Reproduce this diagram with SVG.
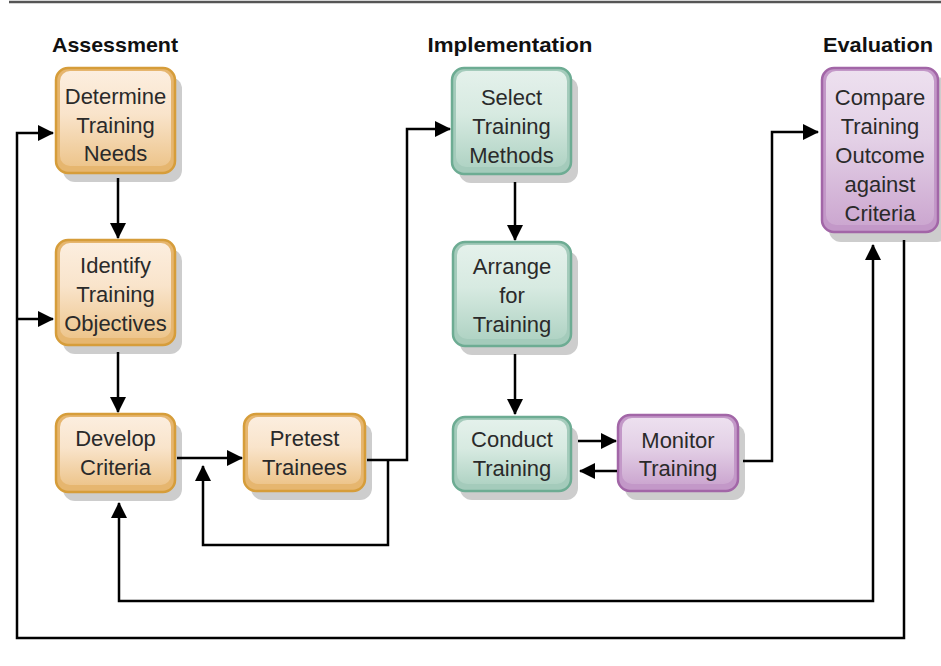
<svg xmlns="http://www.w3.org/2000/svg" width="941" height="666" viewBox="0 0 941 666">
<defs>
<linearGradient id="gO" x1="0" y1="0" x2="0" y2="1"><stop offset="0" stop-color="#FCEEDF"/><stop offset="0.45" stop-color="#F9E4CB"/><stop offset="1" stop-color="#EDC58C"/></linearGradient>
<linearGradient id="gG" x1="0" y1="0" x2="0" y2="1"><stop offset="0" stop-color="#E4F1EB"/><stop offset="0.45" stop-color="#D7EAE1"/><stop offset="1" stop-color="#B0D3C4"/></linearGradient>
<linearGradient id="gP" x1="0" y1="0" x2="0" y2="1"><stop offset="0" stop-color="#EDE0EF"/><stop offset="0.45" stop-color="#E3D0E6"/><stop offset="1" stop-color="#CCA7D0"/></linearGradient>
<marker id="ah" viewBox="0 0 16 16" refX="15" refY="8" markerWidth="16" markerHeight="16" markerUnits="userSpaceOnUse" orient="auto-start-reverse"><path d="M0,0 L16,8 L0,16 Z" fill="#000"/></marker>
</defs>
<style>
.sh{fill:#CDCDCD}
.o .ou{fill:#E6B66F;stroke:#D69D3A;stroke-width:2.5}
.o .in{fill:url(#gO)}
.g .ou{fill:#A4CBBB;stroke:#6DAC93;stroke-width:2.5}
.g .in{fill:url(#gG)}
.p .ou{fill:#C398C8;stroke:#A266A7;stroke-width:2.5}
.p .in{fill:url(#gP)}
.t{font-family:"Liberation Sans",Arial,sans-serif;font-size:22px;fill:#2a2a2a;text-anchor:middle}
.h{font-family:"Liberation Sans",Arial,sans-serif;font-size:21px;font-weight:bold;fill:#111;text-anchor:middle}
.c path{fill:none;stroke:#000;stroke-width:2.5}
</style>
<line x1="9" y1="2" x2="941" y2="2" stroke="#555" stroke-width="2.5"/>
<g id="headings">
<text class="h" x="115" y="52" textLength="126" lengthAdjust="spacingAndGlyphs">Assessment</text>
<text class="h" x="510" y="52" textLength="165" lengthAdjust="spacingAndGlyphs">Implementation</text>
<text class="h" x="878" y="52" textLength="110" lengthAdjust="spacingAndGlyphs">Evaluation</text>
</g>
<g id="determine" class="o">
<rect class="sh" x="63" y="77" width="119" height="105" rx="12"/>
<rect class="ou" x="56" y="68" width="119" height="105" rx="12"/>
<rect class="in" x="60" y="71" width="111" height="95" rx="10"/>
<text class="t" x="115.5" y="104">Determine</text><text class="t" x="115.5" y="133">Training</text><text class="t" x="115.5" y="161">Needs</text>
</g>
<g id="identify" class="o">
<rect class="sh" x="63" y="249" width="119" height="105" rx="12"/>
<rect class="ou" x="56" y="240" width="119" height="105" rx="12"/>
<rect class="in" x="60" y="243" width="111" height="95" rx="10"/>
<text class="t" x="115.5" y="273">Identify</text><text class="t" x="115.5" y="302">Training</text><text class="t" x="115.5" y="331">Objectives</text>
</g>
<g id="develop" class="o">
<rect class="sh" x="63" y="423" width="119" height="78" rx="12"/>
<rect class="ou" x="56" y="414" width="119" height="78" rx="12"/>
<rect class="in" x="60" y="417" width="111" height="68" rx="10"/>
<text class="t" x="115.5" y="446">Develop</text><text class="t" x="115.5" y="475">Criteria</text>
</g>
<g id="pretest" class="o">
<rect class="sh" x="251" y="423" width="121" height="77" rx="12"/>
<rect class="ou" x="244" y="414" width="121" height="77" rx="12"/>
<rect class="in" x="248" y="417" width="113" height="67" rx="10"/>
<text class="t" x="304.5" y="446">Pretest</text><text class="t" x="304.5" y="475">Trainees</text>
</g>
<g id="select" class="g">
<rect class="sh" x="459" y="77" width="119" height="106" rx="12"/>
<rect class="ou" x="452" y="68" width="119" height="106" rx="12"/>
<rect class="in" x="456" y="71" width="111" height="96" rx="10"/>
<text class="t" x="511.5" y="105">Select</text><text class="t" x="511.5" y="134">Training</text><text class="t" x="511.5" y="163">Methods</text>
</g>
<g id="arrange" class="g">
<rect class="sh" x="460" y="251" width="118" height="104" rx="12"/>
<rect class="ou" x="453" y="242" width="118" height="104" rx="12"/>
<rect class="in" x="457" y="245" width="110" height="94" rx="10"/>
<text class="t" x="512" y="274">Arrange</text><text class="t" x="512" y="303">for</text><text class="t" x="512" y="332">Training</text>
</g>
<g id="conduct" class="g">
<rect class="sh" x="460" y="426" width="118" height="74" rx="12"/>
<rect class="ou" x="453" y="417" width="118" height="74" rx="12"/>
<rect class="in" x="457" y="420" width="110" height="64" rx="10"/>
<text class="t" x="512" y="447">Conduct</text><text class="t" x="512" y="476">Training</text>
</g>
<g id="monitor" class="p">
<rect class="sh" x="625" y="424" width="120" height="76" rx="12"/>
<rect class="ou" x="618" y="415" width="120" height="76" rx="12"/>
<rect class="in" x="622" y="418" width="112" height="66" rx="10"/>
<text class="t" x="678" y="448">Monitor</text><text class="t" x="678" y="476">Training</text>
</g>
<g id="compare" class="p">
<rect class="sh" x="829" y="77" width="120" height="165" rx="12"/>
<rect class="ou" x="822" y="68" width="116" height="164" rx="12"/>
<rect class="in" x="826" y="71" width="108" height="154" rx="10"/>
<text class="t" x="880" y="105">Compare</text><text class="t" x="880" y="134">Training</text><text class="t" x="880" y="163">Outcome</text><text class="t" x="880" y="192">against</text><text class="t" x="880" y="221">Criteria</text>
</g>
<g id="connectors" class="c">
<path d="M118 178 V238" marker-end="url(#ah)"/>
<path d="M118 352 V412" marker-end="url(#ah)"/>
<path d="M177 458 H242" marker-end="url(#ah)"/>
<path d="M367 460 H407 V129 H450" marker-end="url(#ah)"/>
<path d="M388 460 V545 H203 V466" marker-end="url(#ah)"/>
<path d="M515 182 V240" marker-end="url(#ah)"/>
<path d="M515 354 V414" marker-end="url(#ah)"/>
<path d="M578 441 H616" marker-end="url(#ah)"/>
<path d="M617 471 H580" marker-end="url(#ah)"/>
<path d="M743 461 H772 V132 H818" marker-end="url(#ah)"/>
<path d="M904 240 V638 H17 V133 H53" marker-end="url(#ah)"/>
<path d="M17 319 H53" marker-end="url(#ah)"/>
<path d="M119 503 V601 H873 V245" marker-start="url(#ah)" marker-end="url(#ah)"/>
</g>
</svg>
